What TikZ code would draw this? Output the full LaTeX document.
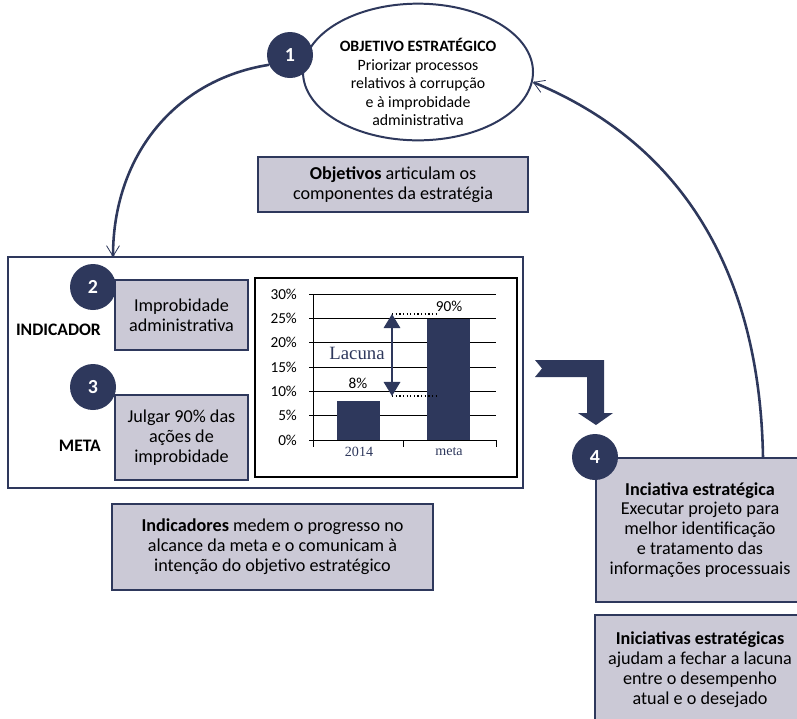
\documentclass[tikz,border=0pt]{standalone}
\usepackage{fontspec}
\setmainfont{Carlito}
\newfontfamily\chartserif{Liberation Serif}
\usetikzlibrary{shapes.geometric, arrows.meta}
\definecolor{navy}{RGB}{46,56,92}
\definecolor{lilas}{RGB}{203,201,214}
\tikzset{
  caixa/.style={draw=navy, line width=1.6pt, fill=lilas, align=center, inner sep=2pt},
  numero/.style={circle, fill=navy, text=white, font=\bfseries\fontsize{17}{17}\selectfont, minimum size=1.38cm, inner sep=0pt},
  laco/.style={draw=navy, line width=2.2pt, -{Straight Barb[length=9pt,width=11pt,line width=0.7pt]}},
  grade/.style={line width=0.8pt},
  eixo/.style={anchor=east, font=\fontsize{13}{13}\selectfont},
}

\begin{document}
\begin{tikzpicture}[x=0.03cm, y=-0.03cm]
\useasboundingbox (0,0) rectangle (797,718);

% objetivo estrategico
\node[ellipse, draw=navy, line width=1.7pt, fill=white, minimum width=6.9cm, minimum height=4.1cm] (obj) at (418,72) {};
\node[align=center, font=\fontsize{13.5}{15.8}\selectfont] (objtxt) at (418,82) {\textbf{OBJETIVO ESTRATÉGICO}\\Priorizar processos\\relativos à corrupção\\e à improbidade\\administrativa};
\node[numero] (c1) at (290,55) {1};

\node[caixa, minimum width=8.1cm, minimum height=1.65cm, font=\fontsize{15.5}{17}\selectfont] (objetivos) at (393,184.5) {\textbf{Objetivos} articulam os\\componentes da estratégia};

% painel indicador / meta
\node[draw=navy, line width=1.6pt, minimum width=15.45cm, minimum height=6.93cm] (painel) at (265.5,372.5) {};
\coordinate (alvo) at (113,257);
\draw[laco] (c1.205) .. controls +(-95,15) and +(0,-100) .. (alvo);

\node[caixa, minimum width=3.99cm, minimum height=2.1cm, font=\fontsize{15.5}{17}\selectfont] (indicador) at (181.5,315) {Improbidade\\administrativa};
\node[caixa, minimum width=3.99cm, minimum height=2.55cm, font=\fontsize{15.5}{17}\selectfont] (meta) at (181.5,437.5) {Julgar 90\% das\\ações de\\improbidade};
\node[anchor=east, font=\bfseries\fontsize{15}{15}\selectfont] (lblind) at (105,330) {INDICADOR};
\node[anchor=east, font=\bfseries\fontsize{15}{15}\selectfont] (lblmeta) at (105,446) {META};
\node[numero] (c2) at (93,287) {2};
\node[numero] (c3) at (93,387) {3};

% grafico
\node[draw, line width=1.2pt, minimum width=7.86cm, minimum height=5.97cm] (grafico) at (386,377.5) {};
\foreach \p in {0,5,...,30} {
  \draw[grade] (309,{440-4.86*\p}) -- (496,{440-4.86*\p});
  \node[eixo] (ey\p) at (301,{440-4.86*\p}) {\p\%};
}
\draw[grade] (313,294) -- (313,440);
\draw[grade] (313,440) -- (313,447);
\draw[grade] (403,440) -- (403,447);
\draw[grade] (496,440) -- (496,447);
\fill[navy] (337,440) rectangle (380,401);
\fill[navy] (427,440) rectangle (470,318.5);
\node[font=\fontsize{13}{13}\selectfont] (v2014) at (358,383) {8\%};
\node[font=\fontsize{13}{13}\selectfont] (vmeta) at (449,306) {90\%};
\node[text=navy, font=\chartserif\fontsize{12}{12}\selectfont] (x2014) at (359,452) {2014};
\node[text=navy, font=\chartserif\fontsize{12}{12}\selectfont] (xmeta) at (449,452) {meta};
\coordinate (lacA) at (392,314);
\coordinate (lacB) at (392,396);
\draw[dotted, line width=1.1pt] (lacA) -- ++(46,0);
\draw[dotted, line width=1.1pt] (lacB) -- ++(46,0);
\draw[navy, line width=1.8pt, {Triangle[length=12pt,width=14pt]}-{Triangle[length=12pt,width=14pt]}] (lacA) -- (lacB);
\node[text=navy, font=\chartserif\fontsize{16}{16}\selectfont] (lacuna) at (357,353) {Lacuna};

% seta dobrada
\fill[navy] (535,360) -- (604,360) -- (604,413) -- (613,413) -- (596,425) -- (578,413) -- (587,413) -- (587,377) -- (535,377) -- (542,368.5) -- cycle;

% iniciativa
\node[caixa, minimum width=6.24cm, minimum height=4.32cm, font=\fontsize{15.5}{17}\selectfont] (iniciativa) at (700,530) {\textbf{Inciativa estratégica}\\Executar projeto para\\melhor identificação\\e tratamento das\\informações processuais};
\node[numero] (c4) at (595,457) {4};
\coordinate (partida) at (763,458);
\draw[laco] (partida) .. controls +(-3,-185) and +(150,62) .. (obj.-5);

\node[caixa, minimum width=6.3cm, minimum height=3.3cm, font=\fontsize{15.5}{17}\selectfont] (iniciativas) at (700,670) {\textbf{Iniciativas estratégicas}\\ajudam a fechar a lacuna\\entre o desempenho\\atual e o desejado};

\node[caixa, minimum width=9.63cm, minimum height=2.58cm, font=\fontsize{15.5}{17}\selectfont] (indicadores) at (272.5,547) {\textbf{Indicadores} medem o progresso no\\alcance da meta e o comunicam à\\intenção do objetivo estratégico};
\end{tikzpicture}
\end{document}
